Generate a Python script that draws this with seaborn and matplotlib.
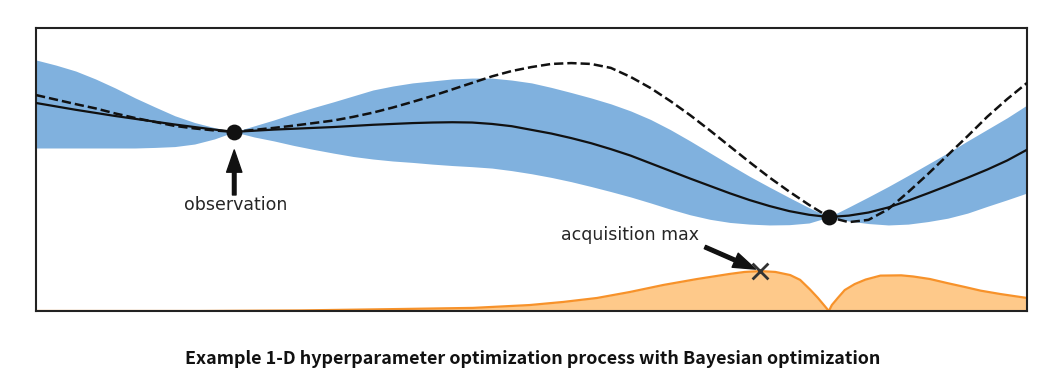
import matplotlib
matplotlib.use("Agg")
import matplotlib.pyplot as plt
import pandas as pd
import seaborn as sns

# --- data (x: 0..10, y: 0..10) ---
x_grid = [0.0, 0.2, 0.4, 0.6, 0.8, 1.0, 1.2, 1.4, 1.6, 1.8,
          2.0, 2.2, 2.4, 2.6, 2.8, 3.0, 3.2, 3.4, 3.6, 3.8,
          4.0, 4.2, 4.4, 4.6, 4.8, 5.0, 5.2, 5.4, 5.6, 5.8,
          6.0, 6.2, 6.4, 6.6, 6.8, 7.0, 7.2, 7.4, 7.6, 7.8,
          8.0, 8.2, 8.4, 8.6, 8.8, 9.0, 9.2, 9.4, 9.6, 9.8, 10.0]

gp_mean = [7.35, 7.23, 7.11, 7.00, 6.89, 6.79, 6.69, 6.59, 6.50, 6.41,
           6.33, 6.37, 6.41, 6.44, 6.47, 6.50, 6.54, 6.58, 6.61, 6.64,
           6.66, 6.67, 6.66, 6.61, 6.53, 6.40, 6.27, 6.11, 5.93, 5.72,
           5.49, 5.22, 4.95, 4.68, 4.42, 4.16, 3.92, 3.71, 3.53, 3.40,
           3.32, 3.37, 3.48, 3.66, 3.90, 4.16, 4.43, 4.71, 5.00, 5.32, 5.70]

true_fn = [7.63, 7.47, 7.31, 7.16, 6.98, 6.82, 6.68, 6.54, 6.45, 6.38,
           6.33, 6.40, 6.47, 6.55, 6.64, 6.73, 6.86, 7.01, 7.19, 7.39,
           7.60, 7.83, 8.06, 8.29, 8.48, 8.62, 8.73, 8.76, 8.73, 8.59,
           8.27, 7.88, 7.42, 6.92, 6.38, 5.82, 5.26, 4.72, 4.22, 3.75,
           3.32, 3.14, 3.22, 3.60, 4.20, 4.84, 5.51, 6.18, 6.87, 7.49, 8.06]

band_upper = [8.87, 8.69, 8.48, 8.20, 7.88, 7.53, 7.21, 6.90, 6.66, 6.48,
              6.33, 6.54, 6.75, 6.98, 7.19, 7.39, 7.60, 7.81, 7.95, 8.06,
              8.13, 8.20, 8.23, 8.23, 8.16, 8.06, 7.90, 7.72, 7.53, 7.32,
              7.07, 6.77, 6.41, 6.01, 5.59, 5.17, 4.76, 4.38, 4.01, 3.65,
              3.32, 3.67, 4.03, 4.40, 4.79, 5.19, 5.59, 6.01, 6.42, 6.83, 7.28]

band_lower = [5.76, 5.76, 5.76, 5.76, 5.76, 5.76, 5.78, 5.81, 5.90, 6.08,
              6.33, 6.15, 6.01, 5.85, 5.71, 5.58, 5.46, 5.37, 5.30, 5.25,
              5.19, 5.14, 5.10, 5.05, 4.96, 4.85, 4.72, 4.57, 4.40, 4.22,
              4.03, 3.82, 3.60, 3.40, 3.24, 3.13, 3.07, 3.04, 3.05, 3.11,
              3.32, 3.18, 3.09, 3.04, 3.07, 3.16, 3.28, 3.46, 3.70, 3.93, 4.17]

acq_x = [0.00, 1.65, 2.66, 3.67, 4.41, 4.98, 5.32, 5.66, 5.99, 6.33,
         6.67, 7.00, 7.15, 7.31, 7.46, 7.61, 7.71, 7.81, 7.89, 7.95,
         8.00, 8.03, 8.09, 8.16, 8.26, 8.37, 8.52, 8.73, 8.85, 9.02,
         9.19, 9.37, 9.53, 9.73, 10.00]
acq_y = [0.00, 0.00, 0.02, 0.07, 0.11, 0.21, 0.32, 0.46, 0.67, 0.92,
         1.13, 1.31, 1.38, 1.41, 1.38, 1.27, 1.10, 0.76, 0.46, 0.21,
         0.00, 0.21, 0.46, 0.74, 0.95, 1.11, 1.25, 1.26, 1.22, 1.13,
         0.99, 0.85, 0.72, 0.60, 0.46]

obs_x = [2.00, 8.00]
obs_y = [6.33, 3.32]

acq_max_x = [7.31]
acq_max_y = [1.41]

caption = "Example 1-D hyperparameter optimization process with Bayesian optimization"

# --- colours ---
BLUE = "#80b1de"
ORANGE_FILL = "#fec98a"
ORANGE_LINE = "#f7922a"
INK = "#111111"

sns.set_theme(style="white")
plt.rcParams["font.family"] = ["DejaVu Sans"]

fig = plt.figure(figsize=(10.63, 3.91), dpi=100)
ax = fig.add_axes([0.0339, 0.2046, 0.9323, 0.7238])

df = pd.DataFrame({"x": x_grid, "mean": gp_mean, "true": true_fn,
                   "lo": band_lower, "hi": band_upper})
acq = pd.DataFrame({"x": acq_x, "y": acq_y})

# uncertainty band
ax.fill_between(df["x"], df["lo"], df["hi"], color=BLUE, linewidth=0, zorder=1)

# acquisition function
ax.fill_between(acq["x"], 0, acq["y"], color=ORANGE_FILL, linewidth=0, zorder=1)
sns.lineplot(data=acq, x="x", y="y", color=ORANGE_LINE, linewidth=1.6, ax=ax,
             zorder=2, sort=False)

# true function and GP mean
sns.lineplot(data=df, x="x", y="true", color=INK, linewidth=1.8,
             linestyle="--", ax=ax, zorder=3, sort=False)
sns.lineplot(data=df, x="x", y="mean", color=INK, linewidth=1.6, ax=ax,
             zorder=3, sort=False)

# observations
sns.scatterplot(x=obs_x, y=obs_y, color=INK, s=130, edgecolor=INK,
                linewidth=0, ax=ax, zorder=4)

# acquisition max marker
ax.scatter(acq_max_x, acq_max_y, marker="x", s=130, color="#333333",
           linewidths=2, zorder=5)

# annotations
arrow = dict(facecolor=INK, edgecolor=INK, width=2.6, headwidth=11,
             headlength=16, shrink=0)
ax.annotate("", xy=(2.00, 5.69), xytext=(2.00, 4.10), arrowprops=arrow)
ax.text(2.01, 3.75, "observation", ha="center", va="center",
        fontsize=12.5, color="#262626")

ax.annotate("", xy=(7.26, 1.48), xytext=(6.75, 2.26), arrowprops=arrow)
ax.text(5.99, 2.68, "acquisition max", ha="center", va="center",
        fontsize=12.5, color="#262626")

ax.set_xlim(0, 10)
ax.set_ylim(0, 10)
ax.set_xticks([])
ax.set_yticks([])
ax.set_xlabel("")
ax.set_ylabel("")
for sp in ax.spines.values():
    sp.set_visible(True)
    sp.set_color("#222222")
    sp.set_linewidth(1.5)

fig.text(0.501, 0.069, caption, ha="center", va="baseline", fontsize=12.9,
         fontweight="bold", color="#111111",
         family=["Noto Sans CJK KR", "DejaVu Sans"])

fig.savefig("out.png", dpi=100, facecolor="white")
